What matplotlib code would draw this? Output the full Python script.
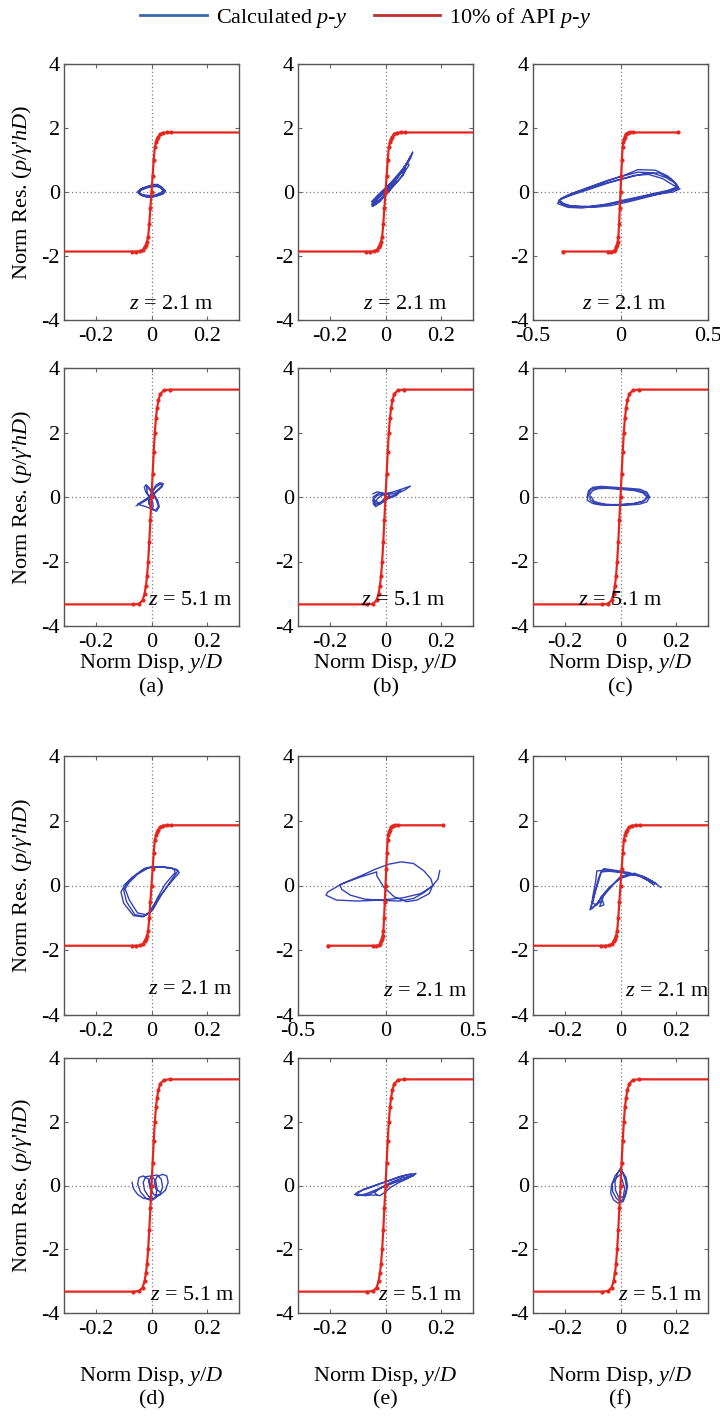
import numpy as np
import matplotlib.pyplot as plt
from matplotlib.lines import Line2D

plt.rcParams['font.family'] = 'Liberation Serif'
plt.rcParams['mathtext.fontset'] = 'custom'
plt.rcParams['mathtext.rm'] = 'Liberation Serif'
plt.rcParams['mathtext.it'] = 'Liberation Serif:italic'
plt.rcParams['axes.unicode_minus'] = False

#%% API p-y (10%) backbone curves
api21_x = [-0.33, -0.07, -0.055, -0.04, -0.03, -0.025, -0.02, -0.016, -0.012, -0.008, -0.004, 0.0,
           0.004, 0.008, 0.012, 0.016, 0.02, 0.025, 0.03, 0.04, 0.055, 0.07, 0.33]
api21_p = [-1.86, -1.86, -1.86, -1.85, -1.8, -1.72, -1.65, -1.55, -1.4, -1.0, -0.5, 0.0,
           0.5, 1.0, 1.4, 1.55, 1.65, 1.72, 1.8, 1.85, 1.86, 1.86, 1.86]
api51_x = [-0.33, -0.065, -0.045, -0.032, -0.025, -0.02, -0.016, -0.012, -0.008, -0.004, 0.0,
           0.004, 0.008, 0.012, 0.016, 0.02, 0.025, 0.032, 0.045, 0.065, 0.33]
api51_p = [-3.33, -3.33, -3.31, -3.2, -3.0, -2.75, -2.45, -2.0, -1.4, -0.7, 0.0,
           0.7, 1.4, 2.0, 2.45, 2.75, 3.0, 3.2, 3.31, 3.33, 3.33]

#%% calculated p-y loops (traced by eye)
a_top_x = [-0.05, -0.035, -0.015, 0.005, 0.02, 0.035, 0.048, 0.045, 0.03, 0.012, -0.005, -0.025, -0.042, -0.05,
           -0.038, -0.018, 0.0, 0.018, 0.032, 0.044, 0.04, 0.025, 0.008, -0.01, -0.03, -0.045, -0.048,
           -0.032, -0.012, 0.006, 0.022, 0.038, 0.05, 0.042, 0.02, 0.0, -0.02, -0.04, -0.05,
           -0.045, -0.03, -0.01, 0.01, 0.025, 0.04, 0.046, 0.035, 0.015, -0.005, -0.028, -0.044,
           -0.04, -0.02, 0.0, 0.02, 0.035, 0.042, 0.03, 0.01, -0.012, -0.035, -0.048]
a_top_p = [0.0, 0.08, 0.15, 0.22, 0.24, 0.17, 0.06, -0.02, -0.08, -0.13, -0.16, -0.14, -0.08, 0.0,
           0.1, 0.16, 0.2, 0.2, 0.14, 0.05, -0.04, -0.1, -0.15, -0.17, -0.12, -0.05, 0.03,
           0.12, 0.18, 0.24, 0.22, 0.12, 0.03, -0.06, -0.12, -0.15, -0.13, -0.06, 0.0,
           0.02, 0.1, 0.17, 0.23, 0.2, 0.1, 0.0, -0.07, -0.12, -0.14, -0.12, -0.05,
           0.05, 0.12, 0.16, 0.17, 0.12, 0.04, -0.04, -0.1, -0.11, -0.08, -0.02]
a_bot_x = [-0.055, -0.035, -0.015, 0.005, 0.022, 0.038, 0.042, 0.03, 0.015, 0.005, -0.005, -0.01, 0.0, 0.018,
           0.028, 0.022, 0.008, -0.008, -0.02, -0.026, -0.02, -0.008, 0.004, 0.006, -0.004, -0.02, -0.04, -0.05,
           -0.03, -0.01, 0.01, 0.03, 0.04, 0.032, 0.015, 0.0, -0.01, -0.002, 0.015, 0.025, 0.015, -0.005,
           -0.018, -0.015, 0.0]
a_bot_p = [-0.27, -0.18, -0.08, 0.05, 0.2, 0.32, 0.42, 0.44, 0.36, 0.2, 0.02, -0.2, -0.38, -0.44,
           -0.3, -0.1, 0.1, 0.28, 0.38, 0.3, 0.15, 0.0, -0.15, -0.3, -0.36, -0.3, -0.25, -0.22,
           -0.12, 0.0, 0.12, 0.28, 0.38, 0.4, 0.3, 0.12, -0.1, -0.32, -0.42, -0.28, -0.05, 0.2,
           0.35, 0.1, 0.0]
b_top_x = [-0.045, -0.02, 0.01, 0.04, 0.07, 0.098, 0.09, 0.065, 0.035, 0.005, -0.025, -0.048, -0.042,
           -0.015, 0.02, 0.05, 0.078, 0.085, 0.06, 0.03, 0.0, -0.03, -0.05, -0.035, -0.005, 0.025,
           0.055, 0.072, 0.06, 0.035, 0.008, -0.02, -0.045,
           -0.04, -0.01, 0.03, 0.06, 0.09, 0.08, 0.05, 0.02, -0.01, -0.04, -0.05, -0.03, 0.0, 0.04,
           0.07, 0.065, 0.04, 0.01, -0.02, -0.045]
b_top_p = [-0.32, -0.12, 0.15, 0.45, 0.8, 1.25, 1.05, 0.7, 0.35, 0.02, -0.3, -0.45, -0.25,
           0.0, 0.3, 0.6, 0.9, 0.85, 0.5, 0.2, -0.08, -0.35, -0.4, -0.2, 0.05, 0.3,
           0.6, 0.75, 0.5, 0.25, 0.0, -0.25, -0.38,
           -0.35, -0.05, 0.3, 0.65, 1.1, 0.95, 0.55, 0.15, -0.15, -0.42, -0.3, -0.12, 0.12, 0.45,
           0.7, 0.55, 0.3, 0.0, -0.3, -0.44]
b_bot_x = [-0.045, -0.03, -0.01, 0.0, -0.015, -0.04, -0.046, -0.03, -0.005, 0.02, 0.05, 0.07, 0.09, 0.07,
           0.04, 0.015, -0.01, -0.035, -0.044, -0.025, 0.0, 0.015, 0.0, -0.02, -0.04, -0.045, -0.02,
           0.01, 0.035, 0.055, 0.04, 0.01, -0.02, -0.04]
b_bot_p = [0.1, 0.16, 0.12, 0.0, -0.15, -0.25, -0.1, 0.05, 0.1, 0.14, 0.22, 0.28, 0.34, 0.22,
           0.1, 0.0, -0.15, -0.3, -0.2, -0.02, 0.12, 0.05, -0.1, -0.22, -0.18, 0.0, 0.14,
           0.08, 0.12, 0.2, 0.05, -0.05, -0.2, -0.1]
c_top_x = [-0.35, -0.3, -0.2, -0.1, 0.0, 0.1, 0.18, 0.26, 0.32, 0.33, 0.28, 0.18, 0.05, -0.05, -0.15, -0.25, -0.33,
           -0.35, -0.34, -0.28, -0.18, -0.08, 0.02, 0.1, 0.2, 0.27, 0.31, 0.32, 0.27, 0.15, 0.02, -0.08, -0.18,
           -0.28, -0.33, -0.35, -0.3, -0.22, -0.12, 0.0, 0.08, 0.16, 0.24, 0.3, 0.34, 0.3, 0.2, 0.08, -0.04,
           -0.12, -0.22, -0.3, -0.36, -0.34, -0.27, -0.17, -0.06, 0.05, 0.14, 0.22, 0.29, 0.33, 0.29, 0.17,
           0.04, -0.1, -0.2, -0.31, -0.35]
c_top_p = [-0.25, -0.1, 0.1, 0.3, 0.48, 0.62, 0.6, 0.45, 0.25, 0.12, 0.02, -0.12, -0.3, -0.42, -0.48, -0.47, -0.4,
           -0.3, -0.2, -0.05, 0.15, 0.35, 0.52, 0.7, 0.68, 0.5, 0.3, 0.15, 0.05, -0.1, -0.25, -0.38, -0.45,
           -0.44, -0.35, -0.25, -0.12, 0.05, 0.22, 0.4, 0.52, 0.55, 0.42, 0.22, 0.1, 0.0, -0.08, -0.22, -0.35,
           -0.43, -0.5, -0.48, -0.36, -0.22, -0.08, 0.1, 0.3, 0.46, 0.58, 0.6, 0.4, 0.16, 0.04, -0.08,
           -0.26, -0.42, -0.47, -0.42, -0.28]
c_bot_x = [-0.12, -0.115, -0.1, -0.07, -0.02, 0.03, 0.07, 0.095, 0.105, 0.095, 0.07, 0.03, -0.02, -0.07, -0.1,
           -0.12, -0.115, -0.105, -0.08, -0.04, 0.01, 0.06, 0.09, 0.1, 0.085, 0.05, 0.0, -0.05, -0.09, -0.11,
           -0.11, -0.1, -0.08, -0.05, 0.0, 0.05, 0.08, 0.095, 0.08, 0.04, -0.01, -0.06, -0.095, -0.105]
c_bot_p = [0.0, 0.2, 0.3, 0.33, 0.3, 0.27, 0.24, 0.15, 0.0, -0.15, -0.22, -0.25, -0.26, -0.25, -0.2,
           -0.1, 0.1, 0.24, 0.3, 0.28, 0.25, 0.22, 0.12, 0.0, -0.12, -0.2, -0.23, -0.24, -0.2, -0.08,
           0.08, 0.2, 0.26, 0.27, 0.24, 0.2, 0.13, 0.0, -0.14, -0.22, -0.25, -0.22, -0.14, 0.0]
d_top_x = [-0.1, -0.07, -0.03, 0.0, 0.05, 0.09, 0.1, 0.06, 0.02, -0.01, -0.03, -0.06, -0.09, -0.1,
           -0.09, -0.06, -0.02, 0.02, 0.07, 0.095, 0.07, 0.035, 0.005, -0.02, -0.05, -0.08, -0.095,
           -0.08, -0.05, -0.01, 0.04, 0.08, 0.085, 0.05, 0.02, 0.0, -0.03, -0.065, -0.1, -0.11, -0.1]
d_top_p = [0.0, 0.25, 0.5, 0.57, 0.56, 0.5, 0.4, 0.0, -0.45, -0.85, -0.95, -0.9, -0.5, -0.15,
           0.05, 0.3, 0.55, 0.58, 0.55, 0.45, 0.15, -0.3, -0.75, -0.9, -0.85, -0.45, -0.1,
           0.1, 0.35, 0.55, 0.57, 0.52, 0.4, 0.05, -0.4, -0.8, -0.97, -0.93, -0.55, -0.2, -0.05]
d_bot_x = [-0.07, -0.065, -0.05, -0.03, -0.01, 0.0, 0.0, -0.01, -0.03, -0.045, -0.05, -0.04, -0.02, 0.0,
           0.015, 0.02, 0.015, 0.0, -0.02, -0.03, -0.025, -0.01, 0.01, 0.03, 0.04, 0.035, 0.02, 0.0,
           -0.01, -0.005, 0.01, 0.03, 0.05, 0.06, 0.055, 0.04, 0.02, 0.01, 0.015, 0.03]
d_bot_p = [0.1, -0.1, -0.28, -0.4, -0.42, -0.3, -0.05, 0.2, 0.3, 0.25, 0.05, -0.2, -0.4, -0.48,
           -0.35, -0.1, 0.15, 0.3, 0.28, 0.1, -0.15, -0.35, -0.42, -0.28, -0.05, 0.2, 0.33, 0.3,
           0.12, -0.1, -0.3, -0.3, -0.15, 0.1, 0.3, 0.35, 0.28, 0.1, -0.1, -0.2]
e_top_x = [0.31, 0.3, 0.27, 0.22, 0.16, 0.08, -0.02, -0.12, -0.2, -0.25, -0.26, -0.22, -0.14, -0.06, 0.02,
           0.09, 0.16, 0.22, 0.26, 0.27, 0.25, 0.18, 0.12, 0.05, -0.01, -0.05, -0.05, -0.15, -0.25, -0.33,
           -0.34, -0.28, -0.16, -0.02, 0.1, 0.2, 0.26]
e_top_p = [0.46, 0.2, 0.0, -0.22, -0.4, -0.48, -0.46, -0.42, -0.3, -0.12, 0.02, 0.12, 0.3, 0.5, 0.66,
           0.73, 0.68, 0.45, 0.2, 0.0, -0.25, -0.45, -0.5, -0.35, -0.05, 0.3, 0.42, 0.25, 0.05, -0.2,
           -0.3, -0.45, -0.48, -0.45, -0.38, -0.25, -0.05]
e_bot_x = [-0.11, -0.1, -0.06, -0.02, 0.03, 0.07, 0.11, 0.1, 0.06, 0.02, -0.03, -0.07, -0.1, -0.11,
           -0.1, -0.08, -0.04, 0.0, 0.05, 0.09, 0.1, 0.07, 0.03, -0.01, -0.04, -0.07, -0.1,
           -0.03, -0.04, -0.02, 0.02, 0.06, 0.09, 0.08, 0.05, 0.02, 0.0, -0.02, -0.03]
e_bot_p = [-0.28, -0.2, -0.08, 0.05, 0.2, 0.32, 0.38, 0.3, 0.18, 0.05, -0.12, -0.26, -0.32, -0.28,
           -0.25, -0.12, 0.0, 0.12, 0.28, 0.36, 0.32, 0.2, 0.1, -0.05, -0.2, -0.32, -0.3,
           -0.3, -0.22, -0.08, 0.1, 0.24, 0.3, 0.22, 0.1, -0.05, -0.2, -0.32, -0.3]
f_top_x = [0.145, 0.12, 0.08, 0.03, -0.02, -0.06, -0.07, -0.08, -0.095, -0.11, -0.1, -0.08, -0.05, -0.02,
           0.0, 0.03, 0.07, 0.1, 0.12, 0.1, 0.06, 0.0, -0.05, -0.085, -0.09, -0.1, -0.105, -0.09, -0.065,
           -0.06, -0.075, -0.06, -0.03, 0.0, 0.05, 0.09, 0.13,
           0.1, 0.05, 0.0, -0.04, -0.07, -0.08, -0.09, -0.1, -0.085, -0.07, -0.04, 0.0, 0.04, 0.08, 0.11]
f_top_p = [-0.06, 0.1, 0.27, 0.4, 0.47, 0.52, 0.4, 0.1, -0.3, -0.75, -0.7, -0.5, -0.2, 0.1,
           0.28, 0.35, 0.3, 0.15, 0.02, 0.15, 0.32, 0.42, 0.48, 0.45, 0.1, -0.35, -0.7, -0.62, -0.45,
           -0.6, -0.65, -0.3, 0.0, 0.25, 0.38, 0.25, 0.05,
           0.2, 0.35, 0.4, 0.44, 0.42, 0.2, -0.15, -0.55, -0.6, -0.35, -0.05, 0.22, 0.33, 0.28, 0.12]
f_bot_x = [0.005, 0.0, -0.02, -0.033, -0.035, -0.025, -0.01, 0.01, 0.02, 0.025, 0.02, 0.008, -0.005, -0.02,
           -0.03, -0.028, -0.015, 0.0, 0.015, 0.022, 0.018, 0.01, 0.0, -0.012, -0.02, -0.018, -0.005, 0.01,
           0.015, 0.005]
f_bot_p = [0.5, 0.35, 0.2, 0.0, -0.25, -0.45, -0.55, -0.5, -0.25, 0.0, 0.25, 0.42, 0.45, 0.3,
           0.05, -0.2, -0.4, -0.52, -0.35, -0.1, 0.15, 0.35, 0.55, 0.35, 0.1, -0.15, -0.4, -0.35,
           -0.1, 0.2]

depth_labels = [r"$z$ = 2.1 m", r"$z$ = 5.1 m"]
case_labels = ["(a)", "(b)", "(c)", "(d)", "(e)", "(f)"]

blue = '#3443b5'
red = '#e4261e'

#%% layout in pixels (figure is 720 x 1418)
W, H = 720, 1418
fig = plt.figure(figsize=(7.2, 14.18), dpi=100)
col_left = [64, 298, 533]
ax_w = 175
row_top = [64, 368, 756, 1058]
row_h = [256, 258, 259, 255]

# (row, col, x, p, api, xlim, depth, text left edge / centre height in axes fraction)
panels = [
    (0, 0, a_top_x, a_top_p, 21, 0.315, 0, (0.37, 0.06)),
    (0, 1, b_top_x, b_top_p, 21, 0.315, 0, (0.37, 0.06)),
    (0, 2, c_top_x, c_top_p, 21, 0.5, 0, (0.28, 0.06)),
    (1, 0, a_bot_x, a_bot_p, 51, 0.315, 1, (0.48, 0.10)),
    (1, 1, b_bot_x, b_bot_p, 51, 0.315, 1, (0.36, 0.10)),
    (1, 2, c_bot_x, c_bot_p, 51, 0.315, 1, (0.26, 0.10)),
    (2, 0, d_top_x, d_top_p, 21, 0.315, 0, (0.48, 0.10)),
    (2, 1, e_top_x, e_top_p, 21, 0.5, 0, (0.485, 0.09)),
    (2, 2, f_top_x, f_top_p, 21, 0.315, 0, (0.525, 0.09)),
    (3, 0, d_bot_x, d_bot_p, 51, 0.315, 1, (0.49, 0.07)),
    (3, 1, e_bot_x, e_bot_p, 51, 0.315, 1, (0.46, 0.07)),
    (3, 2, f_bot_x, f_bot_p, 51, 0.315, 1, (0.485, 0.07)),
]

for r, c, bx, bp, api, xl, dep, tpos in panels:
    ax = fig.add_axes([col_left[c] / W, 1 - (row_top[r] + row_h[r]) / H, ax_w / W, row_h[r] / H])
    ax.axhline(0, color='#808080', lw=0.9, ls=(0, (1, 2)), zorder=1)
    ax.axvline(0, color='#808080', lw=0.9, ls=(0, (1, 2)), zorder=1)
    ax.plot(bx, bp, color=blue, lw=1.0, zorder=2)
    if api == 21:
        ax.plot(api21_x, api21_p, color=red, lw=1.6, marker='.', ms=4, zorder=3)
    else:
        ax.plot(api51_x, api51_p, color=red, lw=1.6, marker='.', ms=4, zorder=3)
    ax.set_xlim(-xl, xl)
    ax.set_ylim(-4, 4)
    if xl == 0.5:
        ax.set_xticks([-0.5, 0, 0.5])
        ax.set_xticklabels(['-0.5', '0', '0.5'])
    else:
        ax.set_xticks([-0.2, 0, 0.2])
        ax.set_xticklabels(['-0.2', '0', '0.2'])
    ax.set_yticks([-4, -2, 0, 2, 4])
    ax.set_yticklabels(['-4', '-2', '0', '2', '4'])
    ax.tick_params(direction='in', top=True, right=True, length=3, width=0.8,
                   color='#666666', labelsize=16, pad=3)
    ax.tick_params(axis='x', pad=5)
    for s in ax.spines.values():
        s.set_color('#555555')
        s.set_linewidth(1.0)
    ax.text(tpos[0], tpos[1], depth_labels[dep], transform=ax.transAxes,
            ha='left', va='center', fontsize=16)

# axis labels and case labels
for r in range(4):
    yc = 1 - (row_top[r] + row_h[r] / 2) / H
    fig.text(22 / W, yc, r"Norm Res. ($p$/$\gamma$'$hD$)", rotation=90,
             ha='center', va='center', fontsize=16)
for k, yb in enumerate([664, 1376]):
    for c in range(3):
        xc = (col_left[c] + ax_w / 2) / W
        fig.text(xc, 1 - yb / H, r"Norm Disp, $y$/$D$", ha='center', va='center', fontsize=16)
        fig.text(xc, 1 - (yb + 24) / H, case_labels[3 * k + c], ha='center', va='center', fontsize=16)

handles = [Line2D([], [], color='#3a67a8', lw=2), Line2D([], [], color='#c0302b', lw=2)]
fig.legend(handles, [r"Calculated $p$-$y$", r"10% of API $p$-$y$"], loc='center',
           bbox_to_anchor=(366 / W, 1 - 18 / H), ncol=2, frameon=False, fontsize=16,
           handlelength=3, columnspacing=1.2, handletextpad=0.4)

fig.savefig('out.png', dpi=100, facecolor='white')
